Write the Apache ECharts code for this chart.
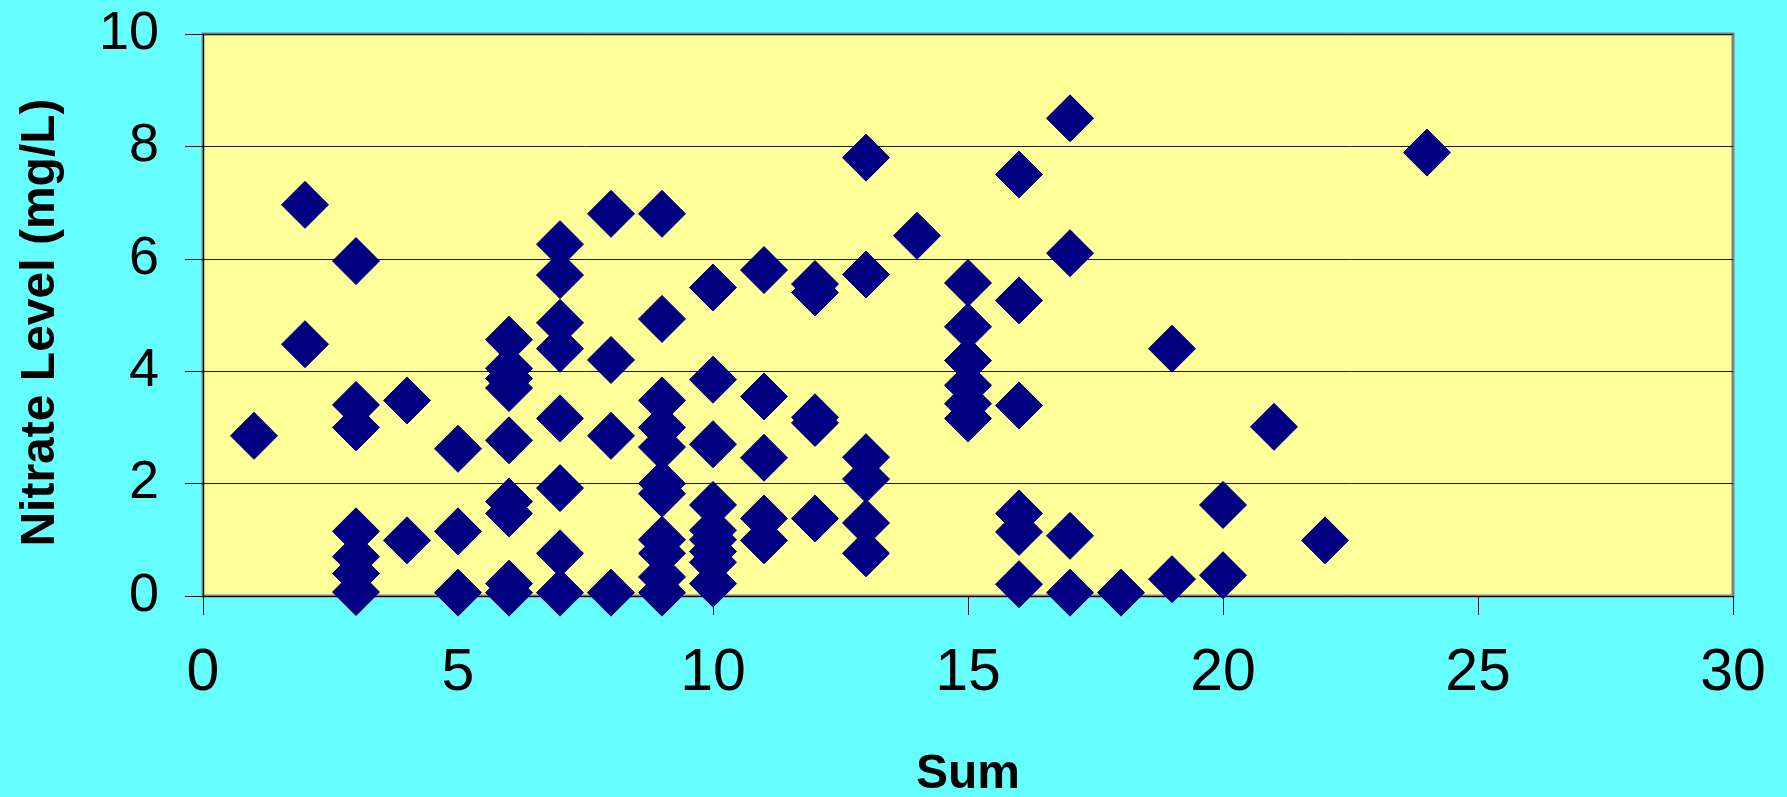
<!DOCTYPE html>
<html>
<head>
<meta charset="utf-8">
<title>Nitrate Level vs Sum</title>
<script src="https://cdn.jsdelivr.net/npm/echarts@6/dist/echarts.min.js"></script>
<style>
  html, body { margin: 0; padding: 0; background: #66FFFF; }
  #chart { width: 1787px; height: 797px; }
</style>
</head>
<body>
<div id="chart"></div>
<script>
// Each well sample: its score sum and the measured nitrate level (mg/L).
const sumValues = [
  1,
  2, 2,
  3, 3, 3, 3, 3, 3, 3,
  4, 4,
  5, 5, 5,
  6, 6, 6, 6, 6, 6, 6, 6, 6,
  7, 7, 7, 7, 7, 7, 7, 7,
  8, 8, 8, 8,
  9, 9, 9, 9, 9, 9, 9, 9, 9, 9, 9,
  10, 10, 10, 10, 10, 10, 10, 10, 10,
  11, 11, 11, 11, 11,
  12, 12, 12, 12, 12,
  13, 13, 13, 13, 13, 13,
  14,
  15, 15, 15, 15, 15, 15,
  16, 16, 16, 16, 16, 16,
  17, 17, 17, 17,
  18,
  19, 19,
  20, 20,
  21,
  22,
  24
];
const nitrateValues = [
  2.85,
  6.96, 4.48,
  5.96, 3.40, 3.00, 1.15, 0.70, 0.40, 0.07,
  3.48, 0.99,
  2.62, 1.15, 0.06,
  4.56, 4.05, 3.87, 3.70, 2.77, 1.68, 1.47, 0.22, 0.06,
  6.26, 5.71, 4.86, 4.40, 3.16, 1.92, 0.76, 0.06,
  6.80, 4.20, 2.85, 0.06,
  6.80, 4.93, 3.48, 3.00, 2.65, 2.00, 1.82, 1.00, 0.76, 0.34, 0.06,
  5.49, 3.85, 2.70, 1.62, 1.17, 1.00, 0.79, 0.60, 0.22,
  5.80, 3.55, 2.46, 1.38, 0.99,
  5.55, 5.40, 3.18, 3.08, 1.38,
  7.80, 5.72, 2.47, 2.08, 1.30, 0.76,
  6.41,
  5.57, 4.79, 4.19, 3.75, 3.42, 3.16,
  7.50, 5.26, 3.39, 1.47, 1.14, 0.21,
  8.50, 6.10, 1.07, 0.06,
  0.06,
  4.40, 0.30,
  1.62, 0.37,
  3.01,
  0.99,
  7.89
];

const xTitle = 'Sum';
const yTitle = 'Nitrate Level (mg/L)';

const points = sumValues.map((s, i) => [s, nitrateValues[i]]);

const chart = echarts.init(document.getElementById('chart'), null, { renderer: 'canvas' });

chart.setOption({
  backgroundColor: '#66FFFF',
  animation: false,
  grid: {
    left: 203,
    right: 54,
    top: 34,
    bottom: 201,
    containLabel: false,
    outerBoundsMode: 'none',
    show: true,
    backgroundColor: '#FFFF99',
    borderColor: '#808080',
    borderWidth: 3
  },
  xAxis: {
    type: 'value',
    min: 0,
    max: 30,
    interval: 5,
    name: xTitle,
    nameLocation: 'middle',
    nameGap: 155,
    nameTextStyle: {
      fontFamily: 'Liberation Sans, Arial, sans-serif',
      fontWeight: 'bold',
      fontSize: 48,
      color: '#000'
    },
    axisLine: { show: true, onZero: false, lineStyle: { color: '#000', width: 1 } },
    axisTick: { show: true, inside: false, length: 19, lineStyle: { color: '#000', width: 1 } },
    axisLabel: {
      margin: 48,
      fontFamily: 'Liberation Sans, Arial, sans-serif',
      fontSize: 59,
      color: '#000'
    },
    splitLine: { show: false }
  },
  yAxis: {
    type: 'value',
    min: 0,
    max: 10,
    interval: 2,
    name: yTitle,
    nameLocation: 'middle',
    nameGap: 138,
    nameTextStyle: {
      fontFamily: 'Liberation Sans, Arial, sans-serif',
      fontWeight: 'bold',
      fontSize: 48,
      color: '#000',
      padding: [0, 15, 0, 0]
    },
    axisLine: { show: true, onZero: false, lineStyle: { color: '#000', width: 1 } },
    axisTick: { show: true, inside: false, length: 18, lineStyle: { color: '#000', width: 1 } },
    axisLabel: {
      margin: 44,
      fontFamily: 'Liberation Sans, Arial, sans-serif',
      fontSize: 54,
      color: '#000'
    },
    splitLine: { show: true, lineStyle: { color: '#1a1a1a', width: 1 } }
  },
  series: [{
    type: 'scatter',
    data: points,
    symbol: 'diamond',
    symbolSize: 47,
    itemStyle: {
      color: '#000080',
      opacity: 1,
      borderColor: '#000080',
      borderWidth: 1,
      borderJoin: 'round'
    },
    emphasis: { disabled: true },
    clip: false
  }]
});
</script>
</body>
</html>
